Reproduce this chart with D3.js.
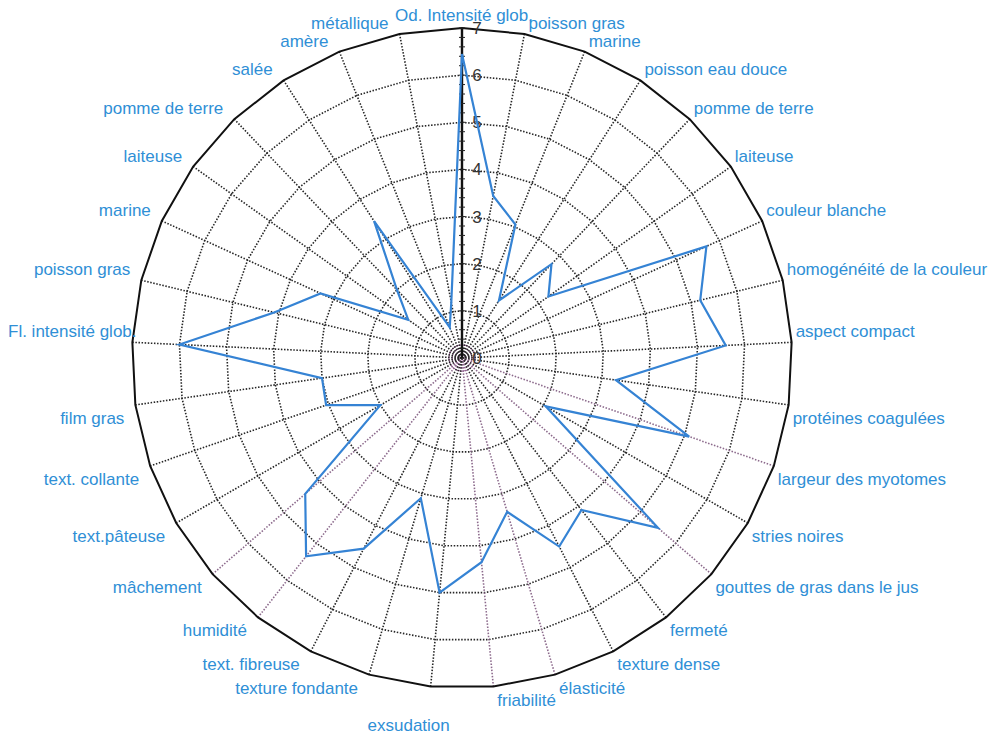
<!DOCTYPE html>
<html>
<head>
<meta charset="utf-8">
<script src="https://cdn.jsdelivr.net/npm/d3@7"></script>
<style>
  body { margin: 0; background: #fff; }
  svg { display: block; }
</style>
</head>
<body>
<svg id="chart"></svg>
<script>
// attributes, clockwise from the top
const attributes = [
    "Od. Intensité glob.", "poisson gras", "marine", "poisson eau douce", "pomme de terre",
    "laiteuse", "couleur blanche", "homogénéité de la couleur", "aspect compact",
    "protéines coagulées", "largeur des myotomes", "stries noires",
    "gouttes de gras dans le jus", "fermeté", "texture dense", "élasticité", "friabilité",
    "exsudation", "texture fondante", "text. fibreuse", "humidité", "mâchement",
    "text.pâteuse", "text. collante", "film gras", "Fl. intensité glob.", "poisson gras",
    "marine", "laiteuse", "pomme de terre", "salée", "amère", "métallique"
];

const scores = [
    6.45, 3.5, 3.05, 1.45, 2.75, 2.25, 5.7, 5.2, 5.6, 3.3, 5.1, 2.05, 5.5, 4.1, 4.5,
    3.4, 4.35, 5.0, 3.1, 4.55, 5.35, 4.4, 2.0, 3.05, 3.0, 6.0, 4.1, 3.3, 1.4, 2.0,
    3.45, 0.7, 1.2
];

const ticks = [0, 1, 2, 3, 4, 5, 6, 7];

class RadarChart {
    width = 1002
    height = 735
    center = { x: 462, y: 358 }
    radius = 330

    constructor(svg) {
        this.svg = d3.select(svg)
            .attr("width", this.width)
            .attr("height", this.height);
        this.n = attributes.length;
        this.rScale = d3.scaleLinear().domain([0, 7]).range([0, this.radius]);
        this.aScale = d3.scaleLinear().domain([0, this.n]).range([0, 2 * Math.PI]);
        this.g = this.svg.append("g")
            .attr("transform", `translate(${this.center.x}, ${this.center.y})`);
        // spokes that came out pinkish in the print
        this.pinkSpokes = new Set([10, 12, 15, 16, 20, 21]);
    }

    point(i, v) {
        const a = this.aScale(i), r = this.rScale(v);
        return [r * Math.sin(a), -r * Math.cos(a)];
    }

    draw() {
        const idx = d3.range(this.n);
        const ring = d3.lineRadial()
            .angle(i => this.aScale(i))
            .curve(d3.curveLinearClosed);

        // dotted rings
        this.g.append("g").selectAll("path")
            .data(ticks.slice(1, -1))
            .join("path")
            .attr("d", v => ring.radius(() => this.rScale(v))(idx))
            .attr("fill", "none")
            .attr("stroke", "#262626")
            .attr("stroke-width", 1.6)
            .attr("stroke-dasharray", "1.5,1.6");

        // small circles at the centre
        this.g.append("g").selectAll("circle")
            .data([0.07, 0.14, 0.21, 0.28])
            .join("circle")
            .attr("r", v => this.rScale(v))
            .attr("fill", "none")
            .attr("stroke", "#9a4f9a")
            .attr("stroke-width", 0.9);

        // spokes
        this.g.append("g").selectAll("line")
            .data(idx.slice(1))
            .join("line")
            .attr("x1", 0).attr("y1", 0)
            .attr("x2", i => this.point(i, 7)[0])
            .attr("y2", i => this.point(i, 7)[1])
            .attr("stroke", i => this.pinkSpokes.has(i) ? "#8c6a8c" : "#262626")
            .attr("stroke-width", 1.6)
            .attr("stroke-dasharray", "1.5,1.6");

        // outer border
        this.g.append("path")
            .attr("d", ring.radius(() => this.rScale(7))(idx))
            .attr("fill", "none")
            .attr("stroke", "#111")
            .attr("stroke-width", 2);

        // vertical value axis
        const axis = this.g.append("g");
        axis.append("line")
            .attr("x1", 0).attr("y1", 0)
            .attr("x2", 0).attr("y2", -this.rScale(7))
            .attr("stroke", "#111")
            .attr("stroke-width", 2.4);
        axis.selectAll("line.minor")
            .data(d3.range(0, 7.01, 0.2))
            .join("line")
            .attr("class", "minor")
            .attr("x1", -3).attr("x2", 3)
            .attr("y1", v => -this.rScale(v))
            .attr("y2", v => -this.rScale(v))
            .attr("stroke", "#222")
            .attr("stroke-width", 1);
        axis.selectAll("text")
            .data(ticks)
            .join("text")
            .attr("x", 15)
            .attr("y", v => -this.rScale(v))
            .attr("dy", "0.35em")
            .attr("text-anchor", "middle")
            .attr("font-family", "Liberation Sans, Arial, sans-serif")
            .attr("font-size", "17px")
            .attr("fill", "#333")
            .text(v => v);

        // data line
        this.g.append("path")
            .attr("d", d3.lineRadial()
                .angle((d, i) => this.aScale(i))
                .radius(d => this.rScale(d))
                .curve(d3.curveLinearClosed)(scores))
            .attr("fill", "none")
            .attr("stroke", "#3583d4")
            .attr("stroke-width", 2.2)
            .attr("stroke-linejoin", "miter");

        // attribute labels
        const leftEdge = 8 - this.center.x;
        this.g.append("g").selectAll("text")
            .data(attributes)
            .join("text")
            .attr("font-family", "Liberation Sans, Arial, sans-serif")
            .attr("font-size", "17px")
            .attr("fill", "#2f8fd6")
            .text(d => d)
            .each((d, i, nodes) => {
                const [x, y] = this.point(i, 7);
                const a = this.aScale(i);
                const s = Math.sin(a), c = Math.cos(a);
                const t = d3.select(nodes[i]);
                const w = nodes[i].getComputedTextLength();
                let tx, ty, anchor;
                if (Math.abs(s) < 0.01) {
                    // top label, centred over the axis
                    anchor = "middle"; tx = x + 2; ty = y - 7;
                } else if (c < -0.99 && s < 0) {
                    // bottom label, dropped below the border
                    anchor = "middle"; tx = x - 22; ty = y + 44;
                } else if (s > 0) {
                    anchor = "start"; tx = x + 4; ty = c > 0 ? y - 5 : y + 19;
                } else {
                    anchor = "end"; tx = Math.max(x - 11, leftEdge + w);
                    ty = c > 0 ? y - 5 : y + 19;
                }
                t.attr("x", tx).attr("y", ty).attr("text-anchor", anchor);
            });
    }
}

const chart = new RadarChart("#chart");
chart.draw();
</script>
</body>
</html>
